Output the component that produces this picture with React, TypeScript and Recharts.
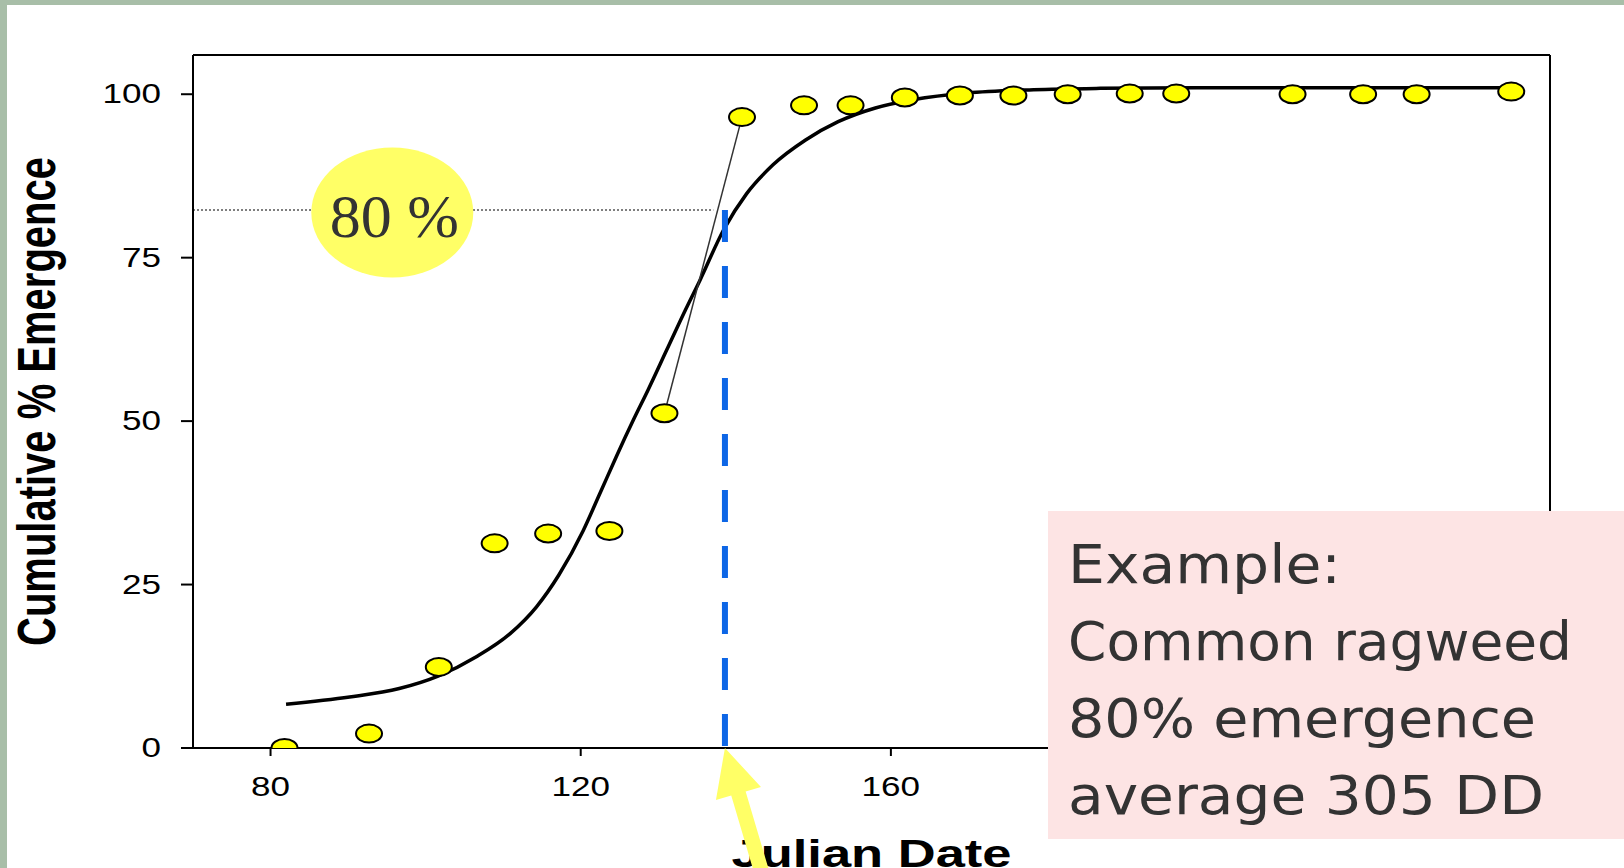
import React from "react"
import {
  ComposedChart,
  Line,
  Scatter,
  XAxis,
  YAxis,
  ReferenceLine,
  ReferenceDot,
} from "recharts"

// observed cumulative emergence (Julian date, %)
const obsDay = [81.8, 92.7, 101.7, 108.9, 115.8, 123.7, 130.8, 140.8, 148.8, 154.8, 161.8, 168.9, 175.8, 182.8, 190.8, 196.8, 211.8, 220.9, 227.8, 240.0]
const obsPct = [0, 2.2, 12.4, 31.3, 32.8, 33.2, 51.2, 96.5, 98.3, 98.3, 99.5, 99.8, 99.8, 100.0, 100.1, 100.1, 100.0, 100.0, 100.0, 100.4]

// fitted curve
const fitDay = [82.0, 90.2, 96.6, 101.6, 106.6, 110.9, 114.3, 117.2, 120.3, 122.5, 124.6, 126.8, 128.7, 131.1, 133.5, 135.4, 138.4, 141.4, 144.8, 149.0, 153.2, 158.0, 163.0, 169.8, 178.4, 187.0, 200.0, 240.0]
const fitPct = [6.7, 7.8, 9.1, 11.0, 14.0, 17.5, 21.6, 26.5, 33.2, 39.0, 44.6, 50.2, 54.8, 60.9, 67.0, 71.6, 79.2, 84.8, 89.2, 93.0, 95.8, 97.9, 99.2, 100.2, 100.7, 100.9, 101.0, 101.0]

const xTicks = [80, 120, 160, 200, 240]
const yTicks = [0, 25, 50, 75, 100]

// 80% emergence marker
const target = { pct: 82.3, day: 138.6, bubbleDay: 95.7, bubbleLabel: "80 %" }

const noteLines = ["Example:", "Common ragweed", "80% emergence", "average 305 DD"]

const points = obsDay.map((x, i) => ({ x, y: obsPct[i] }))
const curve = fitDay.map((x, i) => ({ x, y: fitPct[i] }))

const tickFont = "'Liberation Sans', Arial, sans-serif"

function YTick(props: any) {
  const { x, y, payload } = props
  const s = String(payload.value)
  return (
    <text x={x} y={y + 9} textAnchor="end" fontFamily={tickFont} fontSize={27} fill="#000"
      textLength={s.length * 19.5} lengthAdjust="spacingAndGlyphs">
      {s}
    </text>
  )
}

function XTick(props: any) {
  const { x, y, payload } = props
  const s = String(payload.value)
  return (
    <text x={x} y={y + 20} textAnchor="middle" fontFamily={tickFont} fontSize={27} fill="#000"
      textLength={s.length * 19.5} lengthAdjust="spacingAndGlyphs">
      {s}
    </text>
  )
}

function Dot(props: any) {
  return <ellipse cx={props.cx} cy={props.cy} rx={13} ry={9} fill="#ffff00" stroke="#000" strokeWidth={2} />
}

function Bubble(props: any) {
  const { cx, cy } = props
  return (
    <g>
      <ellipse cx={cx} cy={cy} rx={81} ry={65} fill="#ffff66" />
      <text x={cx + 2} y={cy + 24} textAnchor="middle" fontFamily="'Liberation Serif', 'Times New Roman', serif"
        fontSize={62} fill="#333">
        {target.bubbleLabel}
      </text>
    </g>
  )
}

function Arrow(props: any) {
  const { cx, cy } = props
  const pts = [
    [0, 0], [36, 39], [20.7, 43.4], [45.7, 127.9], [31.3, 132.1], [6.3, 47.6], [-9, 52],
  ].map(([dx, dy]) => `${cx + dx},${cy + dy}`).join(" ")
  return <polygon points={pts} fill="#ffff66" />
}

export default function App() {
  return (
    <div style={{ position: "absolute", left: 0, top: 0, width: 1624, height: 868, background: "#fff", overflow: "hidden" }}>
      <ComposedChart width={1624} height={868} margin={{ top: 55, right: 74, bottom: 0, left: 0 }}>
        <XAxis
          type="number"
          dataKey="x"
          domain={[70, 245]}
          ticks={xTicks}
          allowDataOverflow
          axisLine={{ stroke: "#000", strokeWidth: 2 }}
          tickLine={{ stroke: "#000", strokeWidth: 2 }}
          tickSize={8}
          tickMargin={20}
          tick={<XTick />}
          height={120}
          label={(p: any) => {
            const vb = p.viewBox || { x: 193, y: 748, width: 1357 }
            return (
              <text x={vb.x + vb.width / 2} y={vb.y + 119} textAnchor="middle" fontFamily={tickFont}
                fontWeight="bold" fontSize={38} fill="#000" textLength={280} lengthAdjust="spacingAndGlyphs">
                Julian Date
              </text>
            )
          }}
        />
        <YAxis
          type="number"
          dataKey="y"
          domain={[0, 106]}
          ticks={yTicks}
          allowDataOverflow
          width={193}
          axisLine={{ stroke: "#000", strokeWidth: 2 }}
          tickLine={{ stroke: "#000", strokeWidth: 2 }}
          tickSize={12}
          tickMargin={20}
          tick={<YTick />}
          label={(p: any) => {
            const vb = p.viewBox || { x: 0, y: 55, height: 693 }
            const cy = vb.y + vb.height / 2
            return (
              <text transform={`translate(36, ${cy}) scale(1.35, 1) rotate(-90)`} textAnchor="middle" dy="0.36em"
                fontFamily={tickFont} fontWeight="bold" fontSize={40} fill="#000">
                Cumulative % Emergence
              </text>
            )
          }}
        />
        <ReferenceLine y={106} stroke="#000" strokeWidth={2} ifOverflow="visible" />
        <ReferenceLine x={245} stroke="#000" strokeWidth={2} ifOverflow="visible" />
        <ReferenceLine
          segment={[{ x: 70, y: target.pct }, { x: 137.1, y: target.pct }]}
          stroke="#555"
          strokeWidth={1.5}
          strokeDasharray="2 2"
        />
        <Scatter data={points} shape={<Dot />} isAnimationActive={false} />
        <Line data={curve} type="monotone" dataKey="y" stroke="#000" strokeWidth={3.5} dot={false} activeDot={false} isAnimationActive={false} />
        <ReferenceLine
          segment={[{ x: obsDay[6], y: obsPct[6] }, { x: obsDay[7], y: obsPct[7] }]}
          stroke="#333"
          strokeWidth={1.5}
        />
        <ReferenceLine
          segment={[{ x: target.day, y: target.pct }, { x: target.day, y: 0 }]}
          stroke="#0d66e6"
          strokeWidth={6}
          strokeDasharray="32 24"
        />
        <ReferenceDot x={target.bubbleDay} y={81.9} shape={<Bubble />} ifOverflow="visible" />
        <ReferenceDot x={target.day} y={0} shape={<Arrow />} ifOverflow="visible" />
      </ComposedChart>
      <svg width={1624} height={868} style={{ position: "absolute", left: 0, top: 0, pointerEvents: "none" }}>
        <rect x={0} y={0} width={1624} height={5} fill="#a8bea8" />
        <rect x={0} y={0} width={7} height={868} fill="#a8bea8" />
        <rect x={1048} y={511} width={576} height={328} fill="#fde4e4" />
        {noteLines.map((t, i) => (
          <text key={t} x={1068} y={583 + i * 77} fontFamily="'Comic Sans MS', 'DejaVu Sans', sans-serif" fontSize={54}
            fill="#333" textLength={[273, 504, 468, 476][i]} lengthAdjust="spacingAndGlyphs">
            {t}
          </text>
        ))}
      </svg>
    </div>
  )
}
